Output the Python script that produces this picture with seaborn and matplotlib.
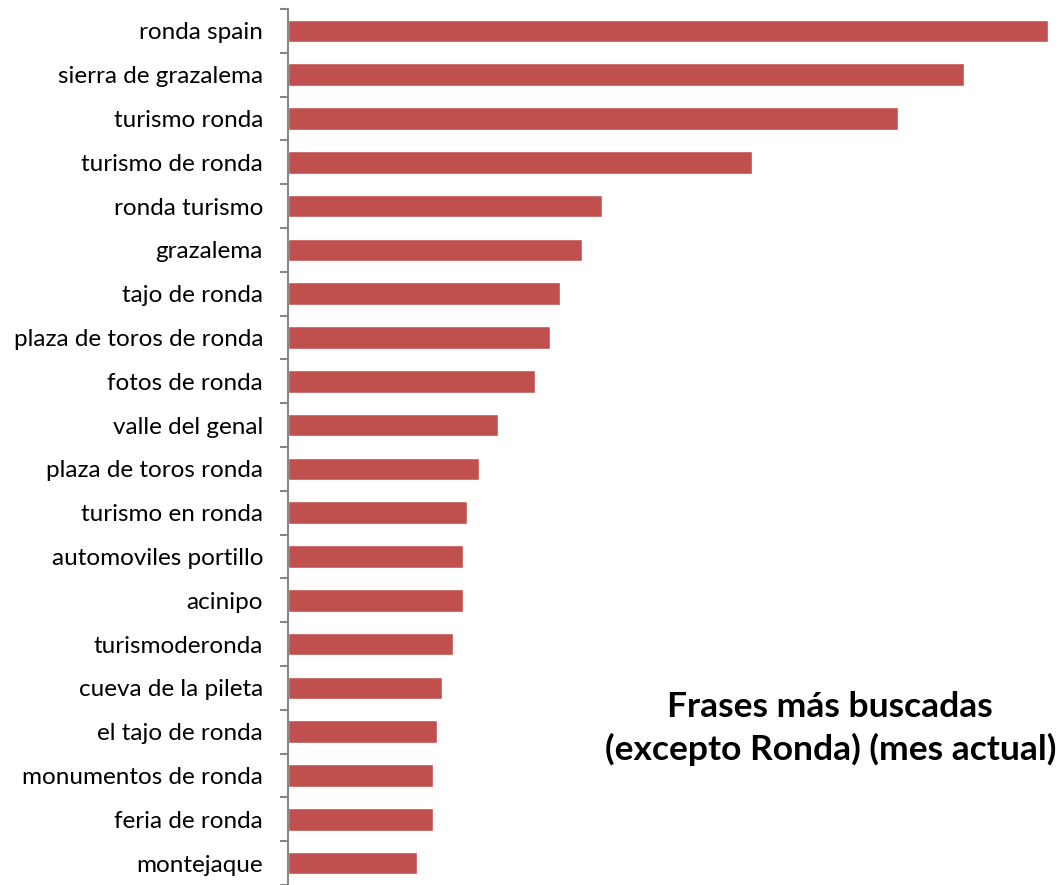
import matplotlib
matplotlib.use("Agg")
import matplotlib.pyplot as plt
import seaborn as sns
import pandas as pd
import numpy as np

categories = ["ronda spain", "sierra de grazalema", "turismo ronda", "turismo de ronda",
              "ronda turismo", "grazalema", "tajo de ronda", "plaza de toros de ronda",
              "fotos de ronda", "valle del genal", "plaza de toros ronda", "turismo en ronda",
              "automoviles portillo", "acinipo", "turismoderonda", "cueva de la pileta",
              "el tajo de ronda", "monumentos de ronda", "feria de ronda", "montejaque"]
values = [760, 676, 610, 464, 314, 294, 272, 262, 247, 210, 191, 179, 175, 175, 165,
          154, 149, 145, 145, 129]
title_text = "Frases más buscadas\n(excepto Ronda) (mes actual)"

sns.set_style("white")
plt.rcParams['font.family'] = ['Lato', 'DejaVu Sans']

df = pd.DataFrame({"cat": categories, "val": values})
fig = plt.figure(figsize=(10.63, 8.85), dpi=100)
ax = fig.add_axes([288/1063, 0, (1048-288)/1063, (885-9)/885])
sns.barplot(data=df, y="cat", x="val", orient="h", color="#C0504D", saturation=1,
            width=0.52, ax=ax)
ax.set_xlim(0, max(values))
ax.set_ylim(len(categories) - 0.5, -0.5)
ax.set_xlabel("")
ax.set_ylabel("")
ax.set_xticks([])
for s in ["top", "right", "bottom"]:
    ax.spines[s].set_visible(False)
ax.spines["left"].set_color("#868686")
ax.spines["left"].set_linewidth(1.5)
ax.tick_params(axis="y", which="major", left=False, length=0, pad=18, labelsize=17.5,
               labelcolor="#000000")
ax.set_yticks(np.arange(len(categories) + 1) - 0.5, minor=True)
ax.tick_params(axis="y", which="minor", left=True, length=6, width=1.5, color="#868686",
               direction="out")
fig.text(0.781, 0.177, title_text, ha="center", va="center", fontsize=25.5,
         fontweight="bold", linespacing=1.38, color="#000000")
fig.savefig("out.png", dpi=100, facecolor="white")
